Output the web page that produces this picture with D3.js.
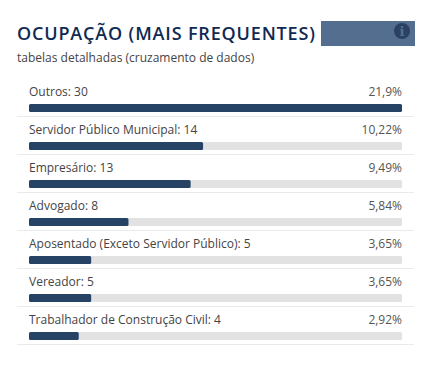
<!DOCTYPE html>
<html>
<head>
<meta charset="utf-8">
<script src="https://cdn.jsdelivr.net/npm/d3@7"></script>
<style>
    html, body { margin: 0; padding: 0; background: #fff; }
    svg { display: block; }
    text { font-family: "Open Sans", sans-serif; }
</style>
</head>
<body>
<div id="chart"></div>
<script>
const categories = ['Outros', 'Servidor Público Municipal', 'Empresário', 'Advogado', 'Aposentado (Exceto Servidor Público)', 'Vereador', 'Trabalhador de Construção Civil'];
const counts = [30, 14, 13, 8, 5, 5, 4];
const percents = ['21,9%', '10,22%', '9,49%', '5,84%', '3,65%', '3,65%', '2,92%'];

const width = 440;
const height = 377;

const svg = d3.select('#chart')
    .append('svg')
    .attr('width', width)
    .attr('height', height);

// header
svg.append('text')
    .attr('x', 17)
    .attr('y', 40)
    .attr('font-size', 18)
    .attr('font-weight', 600)
    .attr('letter-spacing', 0.84)
    .attr('fill', '#0f2a52')
    .text('OCUPAÇÃO (MAIS FREQUENTES)');

svg.append('text')
    .attr('x', 17)
    .attr('y', 62)
    .attr('font-size', 12)
    .attr('fill', '#444')
    .text('tabelas detalhadas (cruzamento de dados)');

svg.append('rect')
    .attr('x', 321)
    .attr('y', 21)
    .attr('width', 94)
    .attr('height', 25)
    .attr('fill', '#546e8f');

svg.append('circle')
    .attr('cx', 402)
    .attr('cy', 31)
    .attr('r', 8)
    .attr('fill', '#2b4163');

svg.append('text')
    .attr('x', 402)
    .attr('y', 36)
    .attr('text-anchor', 'middle')
    .attr('font-size', 13)
    .attr('font-weight', 800)
    .style('font-family', '"DejaVu Serif", serif')
    .attr('fill', '#546e8f')
    .text('i');

// scales
const x = d3.scaleLinear()
    .domain([0, d3.max(counts)])
    .range([29, 402]);

const y = d3.scaleBand()
    .domain(categories)
    .range([78, 344]);

const rows = svg.selectAll('g.row')
    .data(categories)
    .join('g')
    .attr('class', 'row')
    .attr('transform', d => `translate(0,${y(d)})`);

rows.append('text')
    .attr('x', 29)
    .attr('y', 18)
    .attr('font-size', 12)
    .attr('fill', '#444')
    .text((d, i) => `${d}: ${counts[i]}`);

rows.append('text')
    .attr('x', 402)
    .attr('y', 18)
    .attr('text-anchor', 'end')
    .attr('font-size', 12)
    .attr('fill', '#555')
    .text((d, i) => percents[i]);

// grey track
rows.append('rect')
    .attr('x', x(0))
    .attr('y', 26)
    .attr('width', x(d3.max(counts)) - x(0))
    .attr('height', 8)
    .attr('rx', 1.5)
    .attr('fill', '#e2e2e2');

// value bar
rows.append('rect')
    .attr('x', x(0))
    .attr('y', 26)
    .attr('width', (d, i) => x(counts[i]) - x(0))
    .attr('height', 8)
    .attr('rx', 1.5)
    .attr('fill', '#264365');

rows.append('line')
    .attr('x1', 17)
    .attr('x2', 414)
    .attr('y1', y.bandwidth() + 0.5)
    .attr('y2', y.bandwidth() + 0.5)
    .attr('stroke', '#eaeaea');
</script>
</body>
</html>
